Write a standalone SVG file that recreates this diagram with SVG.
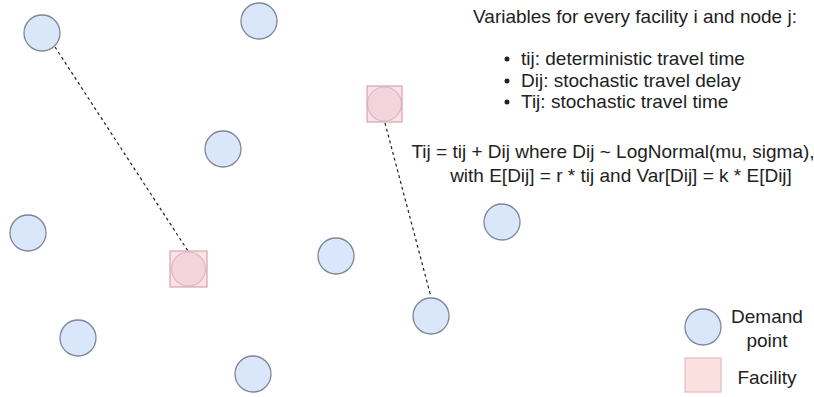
<svg xmlns="http://www.w3.org/2000/svg" width="814" height="397" viewBox="0 0 814 397">
<style>
.dp{fill:#dae6fa;stroke:#7d8796;stroke-width:1.3}
.fc{fill:#f8cfd6;fill-opacity:0.6;stroke:#d9a3ad;stroke-width:1.2}
.fi{fill:#e9dde6;stroke:#a9959d;stroke-width:1.1}
.t{font-family:"Liberation Sans",Arial,sans-serif;font-size:19px;fill:#222}
.ln{fill:none;stroke:#222;stroke-width:1.2;stroke-dasharray:3 3}
</style>
<rect width="814" height="397" fill="#fff"/>
<g id="connectors">
<line class="ln" x1="55" y1="47" x2="188" y2="251"/>
<line class="ln" x1="385" y1="123" x2="431" y2="297"/>
</g>
<g id="d1"><circle class="dp" cx="42" cy="33" r="18"/></g>
<g id="d2"><circle class="dp" cx="259" cy="21" r="18"/></g>
<g id="d3"><circle class="dp" cx="223" cy="149" r="18"/></g>
<g id="d4"><circle class="dp" cx="28" cy="233" r="18"/></g>
<g id="d5"><circle class="dp" cx="336" cy="256" r="18"/></g>
<g id="d6"><circle class="dp" cx="502" cy="222" r="18"/></g>
<g id="d7"><circle class="dp" cx="431" cy="316" r="18"/></g>
<g id="d8"><circle class="dp" cx="78" cy="338" r="18"/></g>
<g id="d9"><circle class="dp" cx="253" cy="374" r="18"/></g>
<g id="f1"><circle class="fi" cx="384.5" cy="104" r="17"/><rect class="fc" x="367" y="86" width="35" height="36"/></g>
<g id="f2"><circle class="fi" cx="188.5" cy="269" r="17"/><rect class="fc" x="170" y="251" width="37" height="36"/></g>
<g id="info">
<text class="t" x="635" y="23" text-anchor="middle">Variables for every facility i and node j:</text>
<circle cx="507" cy="59" r="2.5" fill="#222"/>
<circle cx="507" cy="81" r="2.5" fill="#222"/>
<circle cx="507" cy="102" r="2.5" fill="#222"/>
<text class="t" x="521" y="65">tij: deterministic travel time</text>
<text class="t" x="521" y="87">Dij: stochastic travel delay</text>
<text class="t" x="521" y="108">Tij: stochastic travel time</text>
<text class="t" x="613" y="158" text-anchor="middle">Tij = tij + Dij where Dij ~ LogNormal(mu, sigma),</text>
<text class="t" x="621" y="182" text-anchor="middle">with E[Dij] = r * tij and Var[Dij] = k * E[Dij]</text>
</g>
<g id="legend-demand"><circle class="dp" cx="703" cy="327" r="18"/>
<text class="t" x="767" y="323" text-anchor="middle">Demand</text>
<text class="t" x="767" y="347" text-anchor="middle">point</text></g>
<g id="legend-facility"><rect x="685" y="358" width="36" height="34" fill="#fbe0e0" stroke="#e4b9bf" stroke-width="1.2"/>
<text class="t" x="767" y="384" text-anchor="middle">Facility</text></g>
</svg>
